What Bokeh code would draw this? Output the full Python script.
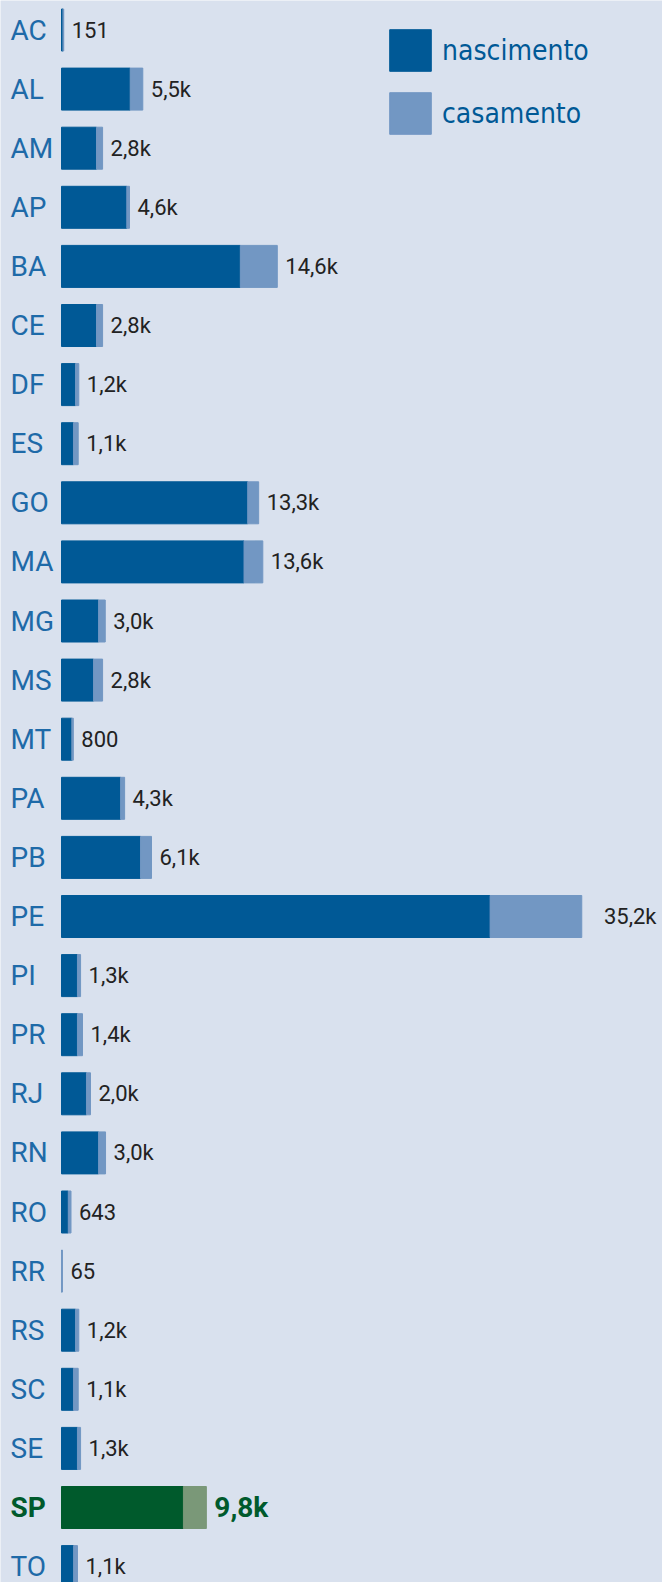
from bokeh.plotting import figure
from bokeh.models import ColumnDataSource, Range1d, Legend, LegendItem
from bokeh.core.properties import value
from bokeh.embed import file_html
from bokeh.resources import INLINE

# ---- data ----
states = ["AC", "AL", "AM", "AP", "BA", "CE", "DF", "ES", "GO", "MA", "MG", "MS", "MT",
          "PA", "PB", "PE", "PI", "PR", "RJ", "RN", "RO", "RR", "RS", "SC", "SE", "SP", "TO"]
nascimento = [100, 4650, 2370, 4420, 12100, 2370, 950, 810, 12600, 12350, 2510, 2170, 700,
              4000, 5350, 29000, 1080, 1080, 1690, 2510, 460, 0, 950, 810, 1080, 8250, 820]
casamento = [51, 850, 410, 180, 2500, 410, 220, 320, 740, 1270, 450, 610, 100,
             270, 740, 6200, 210, 340, 270, 470, 183, 65, 220, 320, 210, 1550, 260]
series_names = ["nascimento", "casamento"]
highlight = "SP"

# ---- style ----
BG = "#d9e1ee"
DARK = "#005996"
LIGHT = "#7297c3"
HL_DARK = "#005a2c"
HL_LIGHT = "#7a9878"
STATE_COLOR = "#1e6aa8"
TEXT_COLOR = "#222222"

W, H = 662, 1582
PX_PER_UNIT = 14.78 / 1000.0
BAR_LEFT_PX = 61
ROW_PX = 59.1
FIRST_ROW_PX = 29.5
BAR_PX = 42

x0 = -BAR_LEFT_PX / PX_PER_UNIT
x1 = x0 + W / PX_PER_UNIT
y_top = -FIRST_ROW_PX / ROW_PX
y_bot = y_top + H / ROW_PX


def fmt(v):
    if v < 1000:
        return str(v)
    return f"{v / 1000:.1f}k".replace(".", ",")


total = [n + c for n, c in zip(nascimento, casamento)]
is_hl = [s == highlight for s in states]
vmax = max(total)

src = ColumnDataSource(dict(
    y=list(range(len(states))),
    state=states,
    nasc=nascimento,
    total=total,
    label=[fmt(t) for t in total],
    c1=[HL_DARK if h else DARK for h in is_hl],
    c2=[HL_LIGHT if h else LIGHT for h in is_hl],
    sc=[HL_DARK if h else STATE_COLOR for h in is_hl],
    vc=[HL_DARK if h else TEXT_COLOR for h in is_hl],
    style=["bold" if h else "normal" for h in is_hl],
    vsize=["28px" if h else "22px" for h in is_hl],
))

norm_idx = [i for i, t in enumerate(total) if t != vmax]
max_idx = [i for i, t in enumerate(total) if t == vmax]
src_norm = ColumnDataSource({k: [v[i] for i in norm_idx] for k, v in src.data.items()})
src_max = ColumnDataSource({k: [v[i] for i in max_idx] for k, v in src.data.items()})

p = figure(width=W, height=H, output_backend="svg", toolbar_location=None,
           x_range=Range1d(x0, x1), y_range=Range1d(y_bot, y_top),
           x_axis_type=None, y_axis_type=None, min_border=0,
           background_fill_color=BG, border_fill_color=BG, outline_line_color=None)
p.grid.visible = False

bar_h = BAR_PX / ROW_PX
r1 = p.hbar(y="y", left=0, right="nasc", height=bar_h, source=src,
            fill_color="c1", line_color="c1", line_width=1)
r2 = p.hbar(y="y", left="nasc", right="total", height=bar_h, source=src,
            fill_color="c2", line_color="c2", line_width=1)

p.text(x=0, y="y", text="state", source=src, x_offset=-51,
       text_align="left", text_baseline="middle",
       text_font=value("Roboto"), text_font_size="28px",
       text_font_style="style", text_color="sc")

p.text(x="total", y="y", text="label", source=src_norm, x_offset=8,
       text_align="left", text_baseline="middle",
       text_font=value("Roboto"), text_font_size="vsize",
       text_font_style="style", text_color="vc")

p.text(x=x1, y="y", text="label", source=src_max, x_offset=-6,
       text_align="right", text_baseline="middle",
       text_font=value("Roboto"), text_font_size="vsize",
       text_font_style="style", text_color="vc")

legend = Legend(items=[LegendItem(label=series_names[0], renderers=[r1], index=0),
                       LegendItem(label=series_names[1], renderers=[r2], index=0)],
                location=(384, 1443), orientation="vertical",
                glyph_width=52, glyph_height=52, spacing=11, padding=0, margin=0,
                label_standoff=6, label_height=52,
                label_text_font="'DejaVu Sans Condensed', Roboto, sans-serif",
                label_text_font_size="28px", label_text_color=DARK,
                label_text_baseline="middle",
                border_line_color=None, background_fill_alpha=0)
p.add_layout(legend, "center")

html = file_html(p, INLINE)
open("out.html", "w").write(html)
